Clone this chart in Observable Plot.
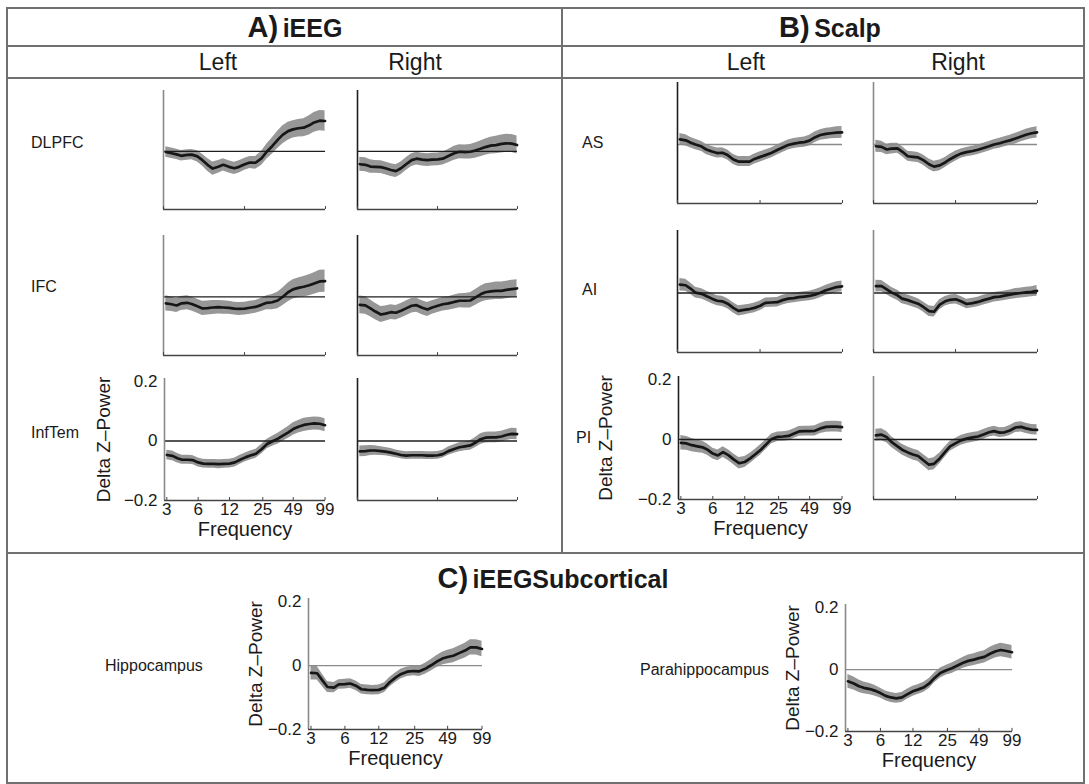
<!DOCTYPE html>
<html><head><meta charset="utf-8">
<script src="https://cdn.jsdelivr.net/npm/d3@7"></script>
<script src="https://cdn.jsdelivr.net/npm/@observablehq/plot@0.6"></script>
<style>
body{margin:0;background:#fff;}
#fig{position:relative;width:1089px;height:784px;overflow:hidden;background:#fff;font-family:"Liberation Sans",Arial,Helvetica,sans-serif;color:#1a1a1a;}
.hdr{position:absolute;transform:translate(-50%,-50%);white-space:nowrap;font-family:"Liberation Sans Narrow","Liberation Sans",Arial,sans-serif;}
.row{position:absolute;transform:translateY(-50%);white-space:nowrap;font-size:16px;}
</style></head><body><div id="fig"></div>
<script>
// ---------------- data ----------------
const freqs = [3, 3.4, 3.8, 4.2, 4.8, 5.3, 6, 6.7, 7.5, 8.4, 9.5, 10.6, 12, 13.5, 15, 17, 19, 21.5, 24.5, 27.5, 31, 35, 39, 44, 49, 55, 62, 70, 78, 88, 99];
const xTickValues = [3, 6, 12, 25, 49, 99];
const xTickLabels = ["3", "6", "12", "25", "49", "99"];
const plainTickValues = [2.85, 16.9, 100];
const yTickValues = [-0.2, 0, 0.2];
const yTickLabels = ["\u22120.2", "0", "0.2"];

// A) iEEG
const dlpfcL = [-0.002,-0.006,-0.010,-0.015,-0.012,-0.011,-0.017,-0.030,-0.046,-0.059,-0.053,-0.046,-0.053,-0.058,-0.053,-0.044,-0.038,-0.039,-0.024,-0.001,0.018,0.040,0.057,0.070,0.076,0.080,0.082,0.090,0.100,0.106,0.105];
const dlpfcLSem = [0.018,0.018,0.018,0.018,0.018,0.018,0.019,0.020,0.022,0.023,0.022,0.021,0.021,0.021,0.021,0.021,0.021,0.022,0.024,0.026,0.028,0.030,0.031,0.031,0.030,0.030,0.031,0.033,0.034,0.035,0.035];
const dlpfcR = [-0.044,-0.046,-0.052,-0.053,-0.054,-0.058,-0.064,-0.068,-0.058,-0.044,-0.030,-0.025,-0.028,-0.030,-0.028,-0.027,-0.025,-0.016,-0.006,-0.001,-0.002,-0.001,0.003,0.009,0.015,0.020,0.022,0.026,0.028,0.027,0.022];
const dlpfcRSem = [0.024,0.024,0.023,0.022,0.022,0.022,0.022,0.022,0.022,0.022,0.022,0.022,0.022,0.022,0.022,0.022,0.022,0.023,0.024,0.024,0.024,0.025,0.026,0.027,0.028,0.029,0.030,0.031,0.031,0.031,0.031];
const ifcL = [-0.022,-0.025,-0.029,-0.022,-0.020,-0.024,-0.032,-0.039,-0.038,-0.036,-0.035,-0.036,-0.037,-0.040,-0.041,-0.040,-0.037,-0.034,-0.027,-0.020,-0.018,-0.012,0.000,0.016,0.026,0.031,0.035,0.040,0.046,0.053,0.054];
const ifcLSem = [0.026,0.025,0.024,0.024,0.024,0.024,0.024,0.024,0.024,0.024,0.023,0.023,0.022,0.022,0.022,0.022,0.022,0.022,0.023,0.024,0.026,0.028,0.030,0.032,0.033,0.034,0.035,0.036,0.037,0.038,0.038];
const ifcR = [-0.027,-0.029,-0.039,-0.049,-0.060,-0.057,-0.052,-0.054,-0.047,-0.039,-0.030,-0.028,-0.037,-0.043,-0.036,-0.030,-0.025,-0.022,-0.017,-0.013,-0.013,-0.012,-0.002,0.009,0.016,0.019,0.021,0.021,0.024,0.027,0.029];
const ifcRSem = [0.030,0.030,0.029,0.028,0.027,0.026,0.025,0.025,0.025,0.025,0.025,0.024,0.024,0.024,0.023,0.023,0.023,0.023,0.024,0.024,0.025,0.026,0.027,0.028,0.029,0.029,0.030,0.030,0.030,0.030,0.030];
const infTemL = [-0.047,-0.050,-0.058,-0.063,-0.063,-0.064,-0.072,-0.076,-0.077,-0.077,-0.078,-0.077,-0.076,-0.072,-0.064,-0.055,-0.049,-0.043,-0.027,-0.010,-0.001,0.008,0.018,0.029,0.040,0.048,0.054,0.057,0.059,0.058,0.053];
const infTemLSem = [0.016,0.016,0.016,0.015,0.015,0.015,0.015,0.015,0.015,0.015,0.015,0.015,0.015,0.015,0.015,0.015,0.015,0.015,0.016,0.016,0.017,0.018,0.019,0.020,0.021,0.021,0.022,0.022,0.022,0.022,0.022];
const infTemR = [-0.035,-0.034,-0.032,-0.032,-0.034,-0.036,-0.039,-0.043,-0.047,-0.049,-0.048,-0.048,-0.048,-0.049,-0.049,-0.048,-0.044,-0.034,-0.027,-0.021,-0.018,-0.015,-0.006,0.006,0.011,0.012,0.012,0.015,0.020,0.024,0.023];
const infTemRSem = [0.018,0.018,0.017,0.016,0.015,0.014,0.014,0.013,0.013,0.013,0.013,0.013,0.013,0.013,0.013,0.013,0.013,0.014,0.014,0.015,0.015,0.016,0.017,0.018,0.018,0.018,0.018,0.018,0.018,0.019,0.019];

// B) Scalp
const asL = [0.017,0.014,0.006,0.000,-0.007,-0.017,-0.024,-0.029,-0.028,-0.036,-0.051,-0.058,-0.058,-0.058,-0.049,-0.042,-0.036,-0.029,-0.019,-0.010,-0.002,0.003,0.006,0.008,0.013,0.024,0.032,0.036,0.038,0.040,0.041];
const asLSem = [0.020,0.019,0.018,0.018,0.017,0.017,0.017,0.017,0.017,0.017,0.017,0.017,0.017,0.017,0.017,0.017,0.017,0.017,0.017,0.017,0.017,0.017,0.017,0.017,0.018,0.018,0.018,0.019,0.019,0.020,0.020];
const asR = [-0.006,-0.008,-0.017,-0.014,-0.013,-0.024,-0.040,-0.042,-0.044,-0.053,-0.067,-0.075,-0.071,-0.061,-0.050,-0.039,-0.031,-0.026,-0.022,-0.018,-0.012,-0.006,0.000,0.004,0.009,0.014,0.020,0.027,0.033,0.038,0.041];
const asRSem = [0.020,0.019,0.018,0.018,0.017,0.017,0.017,0.017,0.017,0.017,0.018,0.018,0.018,0.017,0.017,0.017,0.016,0.016,0.016,0.016,0.016,0.016,0.016,0.017,0.017,0.017,0.018,0.018,0.019,0.019,0.019];
const aiL = [0.028,0.026,0.014,0.001,-0.003,-0.010,-0.019,-0.026,-0.028,-0.036,-0.050,-0.060,-0.057,-0.054,-0.050,-0.043,-0.033,-0.032,-0.031,-0.024,-0.019,-0.017,-0.014,-0.012,-0.010,-0.006,0.001,0.009,0.014,0.020,0.022];
const aiLSem = [0.021,0.020,0.019,0.018,0.017,0.017,0.017,0.017,0.017,0.017,0.017,0.017,0.017,0.016,0.016,0.016,0.016,0.016,0.016,0.016,0.016,0.016,0.016,0.016,0.016,0.017,0.017,0.017,0.018,0.018,0.018];
const aiR = [0.023,0.023,0.012,0.002,-0.008,-0.019,-0.024,-0.030,-0.036,-0.047,-0.061,-0.063,-0.039,-0.028,-0.023,-0.021,-0.028,-0.037,-0.034,-0.030,-0.024,-0.019,-0.014,-0.012,-0.009,-0.006,-0.002,0.000,0.002,0.004,0.007];
const aiRSem = [0.020,0.019,0.018,0.017,0.017,0.017,0.017,0.017,0.017,0.017,0.018,0.018,0.017,0.016,0.016,0.016,0.016,0.016,0.016,0.016,0.016,0.016,0.016,0.016,0.016,0.016,0.017,0.017,0.017,0.017,0.018];
const piL = [-0.011,-0.013,-0.019,-0.022,-0.026,-0.033,-0.047,-0.053,-0.042,-0.052,-0.067,-0.079,-0.075,-0.063,-0.050,-0.034,-0.017,0.002,0.009,0.010,0.012,0.020,0.027,0.028,0.028,0.029,0.037,0.042,0.043,0.043,0.041];
const piLSem = [0.024,0.023,0.022,0.021,0.020,0.019,0.018,0.018,0.018,0.018,0.018,0.019,0.018,0.017,0.017,0.017,0.016,0.016,0.016,0.016,0.016,0.016,0.016,0.016,0.016,0.017,0.017,0.018,0.018,0.018,0.018];
const piR = [0.014,0.016,0.008,-0.008,-0.023,-0.034,-0.043,-0.050,-0.055,-0.069,-0.084,-0.081,-0.063,-0.041,-0.023,-0.012,-0.003,0.003,0.007,0.010,0.017,0.024,0.028,0.023,0.024,0.030,0.040,0.042,0.037,0.033,0.032];
const piRSem = [0.020,0.020,0.019,0.018,0.018,0.018,0.018,0.018,0.018,0.019,0.020,0.020,0.018,0.017,0.016,0.016,0.016,0.016,0.016,0.016,0.016,0.016,0.016,0.016,0.016,0.017,0.017,0.017,0.017,0.017,0.017];

// C) iEEGSubcortical
const hippo = [-0.023,-0.024,-0.047,-0.067,-0.069,-0.059,-0.058,-0.056,-0.063,-0.074,-0.076,-0.077,-0.076,-0.069,-0.052,-0.037,-0.026,-0.019,-0.017,-0.018,-0.010,0.001,0.012,0.022,0.027,0.031,0.039,0.047,0.057,0.057,0.052];
const hippoSem = [0.022,0.021,0.019,0.017,0.016,0.015,0.015,0.015,0.015,0.015,0.015,0.015,0.015,0.015,0.015,0.015,0.015,0.015,0.015,0.016,0.017,0.018,0.019,0.020,0.021,0.022,0.022,0.023,0.024,0.024,0.024];
const parahippo = [-0.038,-0.045,-0.054,-0.059,-0.063,-0.068,-0.076,-0.085,-0.090,-0.093,-0.090,-0.080,-0.070,-0.064,-0.058,-0.045,-0.027,-0.011,-0.002,0.004,0.013,0.022,0.028,0.032,0.037,0.041,0.051,0.059,0.063,0.060,0.056];
const parahippoSem = [0.022,0.021,0.020,0.019,0.018,0.017,0.016,0.016,0.016,0.016,0.016,0.016,0.016,0.016,0.016,0.016,0.016,0.016,0.016,0.017,0.017,0.018,0.019,0.019,0.020,0.020,0.021,0.021,0.022,0.022,0.022];

// ---------------- layout ----------------
const fig = document.getElementById("fig");
function addDiv(cls, css, html) {
  const d = document.createElement("div");
  if (cls) d.className = cls;
  d.style.cssText += css;
  d.innerHTML = html || "";
  fig.appendChild(d);
  return d;
}
const BC = "#707070";
addDiv("", `position:absolute;left:6px;top:7px;width:1075px;height:773px;border:2px solid ${BC};`);
addDiv("", `position:absolute;left:6px;top:45px;width:1079px;height:2px;background:${BC};`);
addDiv("", `position:absolute;left:6px;top:77px;width:1079px;height:2px;background:${BC};`);
addDiv("", `position:absolute;left:6px;top:552px;width:1079px;height:2px;background:${BC};`);
addDiv("", `position:absolute;left:561px;top:7px;width:2px;height:546px;background:${BC};`);

const big = (a, b) => `<span style="font-size:29px;font-weight:bold">${a}</span> <span style="font-size:25px;font-weight:bold">${b}</span>`;
addDiv("hdr", "left:295px;top:27px;", big("A)", "iEEG"));
addDiv("hdr", "left:830px;top:27px;", big("B)", "Scalp"));
addDiv("hdr", "left:553px;top:578px;", big("C)", "iEEGSubcortical"));
for (const [x, t] of [[218, "Left"], [415, "Right"], [746, "Left"], [958, "Right"]]) {
  addDiv("hdr", `left:${x}px;top:62px;font-size:23px;`, t);
}
for (const [x, y, t] of [[31, 143, "DLPFC"], [31, 287, "IFC"], [31, 433, "InfTem"],
                         [582, 143, "AS"], [582, 290, "AI"], [576, 438, "PI"],
                         [105, 666, "Hippocampus"], [640, 670, "Parahippocampus"]]) {
  addDiv("row", `left:${x}px;top:${y}px;`, t);
}

const xDomain = [2.85, 100];
const yDomain = [-0.2, 0.21];
const GRAY = "#8a8a8a", DARK = "#1e1e1e";

const panels = [
  {mean: dlpfcL, sem: dlpfcLSem, x0: 163, x1: 325, yt: 90, yb: 209, axis: GRAY, zero: DARK},
  {mean: dlpfcR, sem: dlpfcRSem, x0: 357, x1: 517, yt: 90, yb: 209, axis: DARK, zero: DARK},
  {mean: ifcL, sem: ifcLSem, x0: 163, x1: 325, yt: 235, yb: 355, axis: GRAY, zero: DARK},
  {mean: ifcR, sem: ifcRSem, x0: 357, x1: 517, yt: 235, yb: 355, axis: DARK, zero: DARK},
  {mean: infTemL, sem: infTemLSem, x0: 164, x1: 325, yt: 378, yb: 500, axis: GRAY, zero: DARK, labeled: true, ylab: 61, xlab: 35},
  {mean: infTemR, sem: infTemRSem, x0: 357, x1: 517, yt: 378, yb: 500, axis: DARK, zero: DARK},
  {mean: asL, sem: asLSem, x0: 677, x1: 842, yt: 82, yb: 203, axis: DARK, zero: GRAY},
  {mean: asR, sem: asRSem, x0: 873, x1: 1037, yt: 82, yb: 203, axis: GRAY, zero: GRAY},
  {mean: aiL, sem: aiLSem, x0: 677, x1: 842, yt: 230, yb: 352, axis: DARK, zero: DARK},
  {mean: aiR, sem: aiRSem, x0: 873, x1: 1037, yt: 230, yb: 352, axis: GRAY, zero: DARK},
  {mean: piL, sem: piLSem, x0: 678, x1: 842, yt: 376, yb: 499, axis: DARK, zero: DARK, labeled: true, ylab: 73, xlab: 35},
  {mean: piR, sem: piRSem, x0: 873, x1: 1037, yt: 376, yb: 499, axis: GRAY, zero: DARK},
  {mean: hippo, sem: hippoSem, x0: 308, x1: 482, yt: 598, yb: 729, axis: GRAY, zero: GRAY, labeled: true, ylab: 53, xlab: 35},
  {mean: parahippo, sem: parahippoSem, x0: 845, x1: 1012, yt: 604, yb: 731, axis: GRAY, zero: GRAY, labeled: true, ylab: 53, xlab: 35}
];

for (const p of panels) {
  const data = freqs.map((f, i) => ({f, m: p.mean[i], lo: p.mean[i] - p.sem[i], hi: p.mean[i] + p.sem[i]}));
  const W = p.x1 - p.x0, H = p.yb - p.yt;
  const ml = p.labeled ? p.ylab + 16 : 4, mb = p.labeled ? 52 : 4, mt = 4, mr = 12;
  const ticks = p.labeled ? xTickValues : plainTickValues;
  const marks = [
    Plot.areaY(data, {x: "f", y1: "lo", y2: "hi", fill: "#979797", fillOpacity: 1}),
    Plot.ruleY([0], {stroke: p.zero, strokeWidth: 1.3}),
    Plot.lineY(data, {x: "f", y: "m", stroke: "#161616", strokeWidth: 2.7, strokeLinejoin: "round"}),
    Plot.ruleX([xDomain[0]], {stroke: p.axis, strokeWidth: 1.6}),
    Plot.ruleY([yDomain[0]], {stroke: "#444", strokeWidth: 1.6}),
    Plot.ruleX(ticks, {y1: -0.2, y2: -0.19, stroke: "#444", strokeWidth: 1})
  ];
  if (p.labeled) {
    marks.push(
      Plot.text(xTickValues, {x: d => d, frameAnchor: "bottom", dy: 14, text: (d, i) => xTickLabels[i], fontSize: 17, textAnchor: "middle"}),
      Plot.text(yTickValues, {y: d => d, frameAnchor: "left", dx: -7, text: (d, i) => yTickLabels[i], fontSize: 17, textAnchor: "end"}),
      Plot.text(["Frequency"], {frameAnchor: "bottom", dy: p.xlab, fontSize: 20, textAnchor: "middle"}),
      Plot.text(["Delta Z\u2013Power"], {frameAnchor: "left", dx: -p.ylab, rotate: -90, fontSize: 19, textAnchor: "middle"})
    );
  }
  const chart = Plot.plot({
    width: ml + W + mr,
    height: mt + H + mb,
    marginLeft: ml, marginRight: mr, marginTop: mt, marginBottom: mb,
    x: {type: "log", domain: xDomain, axis: null},
    y: {domain: yDomain, axis: null},
    style: {fontFamily: '"Liberation Sans", Arial, Helvetica, sans-serif', color: "#1a1a1a", background: "transparent", overflow: "visible"},
    marks
  });
  const holder = addDiv("", `position:absolute;left:${p.x0 - ml}px;top:${p.yt - mt}px;width:${ml + W + mr}px;`);
  holder.appendChild(chart);
}
</script>
</body></html>
